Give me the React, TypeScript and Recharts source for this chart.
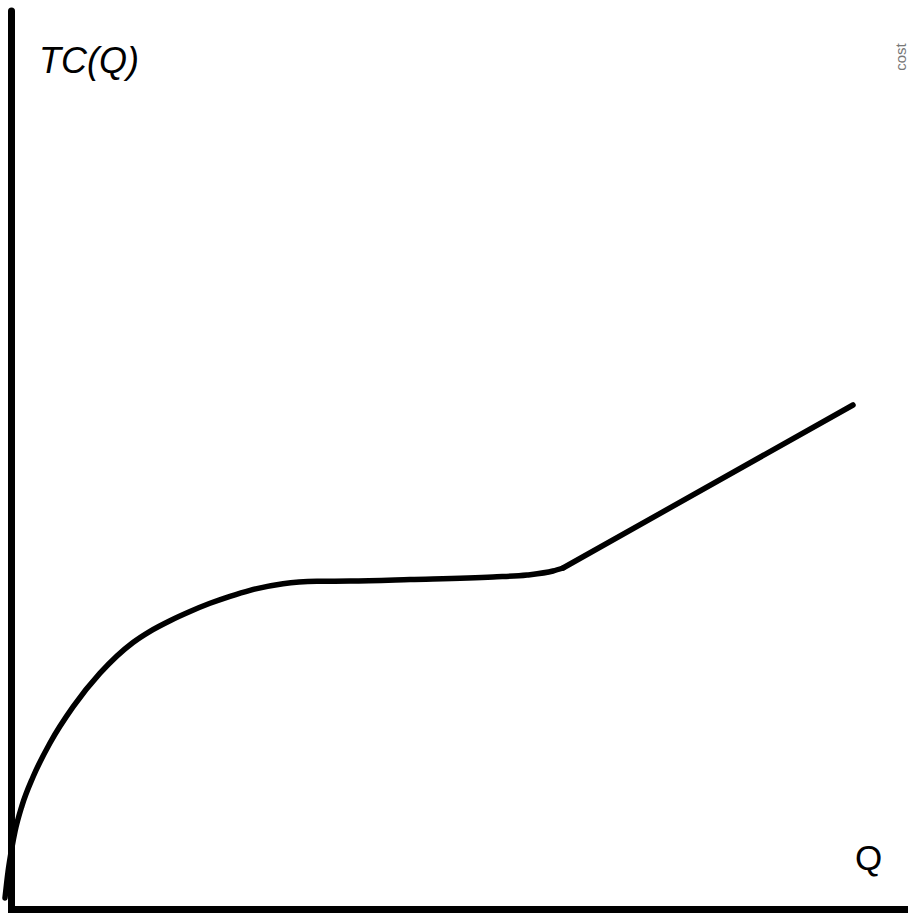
import React from "react";
import { LineChart, Line, XAxis, YAxis, ReferenceLine } from "recharts";

// Quantity (Q) and total cost TC(Q)
const curveQ = [-0.65, -0.35, 0.05, 0.35, 1.05, 2.15, 3.85, 6.15, 8.85, 12.15, 13.85, 15.85, 17.85, 19.85, 21.85, 23.85, 27.15, 30.55, 33.85, 39.85, 48.15, 51.55, 54.15, 55.15];
const curveTC = [1.15, 3.75, 6.25, 7.8, 10.39, 13.25, 16.65, 20.26, 23.63, 26.7, 27.82, 28.88, 29.8, 30.62, 31.32, 31.92, 32.58, 32.82, 32.85, 33.0, 33.25, 33.45, 33.85, 34.15];
const linearQ = [55.15, 84.15];
const linearTC = [34.15, 50.45];

const xDomain = [-1.15, 89.65];
const yDomain = [-0.35, 90.95];

const curveData = curveQ.map((q, i) => ({ q, tc: curveTC[i] }));
const linearData = linearQ.map((q, i) => ({ q, tc: linearTC[i] }));

export default function App() {
  return (
    <div style={{ position: "absolute", left: 0, top: 0, width: 908, height: 913, background: "#fff" }}>
      <LineChart width={908} height={913} margin={{ top: 0, right: 0, bottom: 0, left: 0 }}>
        <XAxis type="number" dataKey="q" domain={xDomain} hide allowDataOverflow />
        <YAxis type="number" dataKey="tc" domain={yDomain} hide allowDataOverflow width={0} />
        <ReferenceLine
          segment={[{ x: 0, y: -0.35 }, { x: 0, y: 89.85 }]}
          stroke="#000"
          strokeWidth={7}
          strokeLinecap="round"
          ifOverflow="visible"
        />
        <ReferenceLine
          segment={[{ x: -0.35, y: 0 }, { x: 89.65, y: 0 }]}
          stroke="#000"
          strokeWidth={7}
          ifOverflow="visible"
        />
        <Line
          data={curveData}
          dataKey="tc"
          type="monotoneX"
          stroke="#000"
          strokeWidth={5.5}
          strokeLinecap="round"
          dot={false}
          activeDot={false}
          isAnimationActive={false}
        />
        <Line
          data={linearData}
          dataKey="tc"
          type="linear"
          stroke="#000"
          strokeWidth={5.5}
          strokeLinecap="round"
          dot={false}
          activeDot={false}
          isAnimationActive={false}
        />
        <text x={39} y={73} fontFamily="Liberation Sans, Arial, sans-serif" fontSize={36} fontStyle="italic" fill="#000">
          TC(Q)
        </text>
        <text x={855} y={870} fontFamily="Liberation Sans, Arial, sans-serif" fontSize={35} fill="#000">
          Q
        </text>
        <text
          x={906}
          y={57}
          transform="rotate(-90 906 57)"
          textAnchor="middle"
          fontFamily="Liberation Sans, Arial, sans-serif"
          fontSize={15}
          fill="#777"
        >
          cost
        </text>
      </LineChart>
    </div>
  );
}
